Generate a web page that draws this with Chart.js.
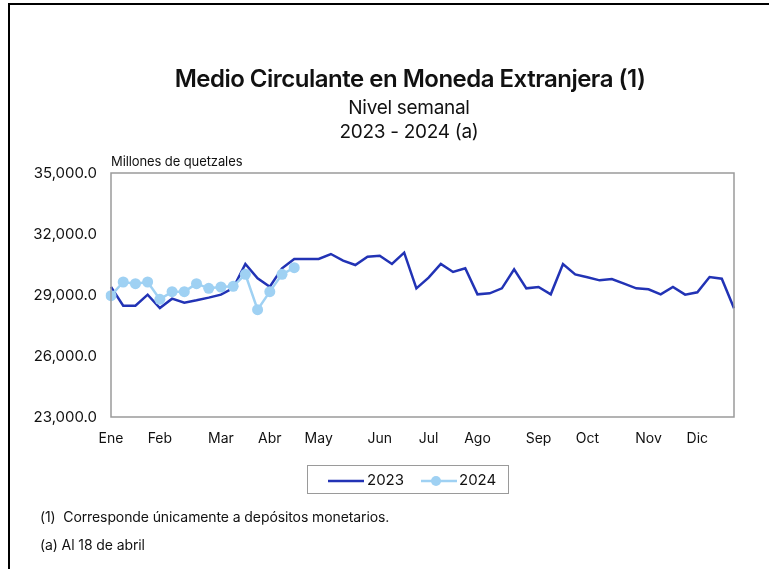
<!DOCTYPE html>
<html lang="es">
<head>
  <meta charset="UTF-8" />
  <title>Medio Circulante en Moneda Extranjera</title>
  <script src="https://cdn.jsdelivr.net/npm/chart.js"></script>
  <style>
    html, body {
      margin: 0;
      padding: 0;
      width: 769px;
      height: 569px;
      overflow: hidden;
      background: #fff;
      font-family: 'Inter', 'Noto Sans', sans-serif;
      color: #111;
    }
    .frame {
      position: absolute;
      left: 8px;
      top: 3px;
      width: 800px;
      height: 600px;
      border-top: 2px solid #000;
      border-left: 2px solid #000;
    }
    #wrap {
      position: absolute;
      left: 0;
      top: 0;
      width: 769px;
      height: 569px;
    }
    .txt {
      position: absolute;
      white-space: nowrap;
    }
    .title {
      left: 0; width: 820px; text-align: center;
      top: 64px; font-size: 24px; font-weight: 600; letter-spacing: -0.5px;
    }
    .sub {
      left: 0; width: 818px; text-align: center;
      font-size: 19px; letter-spacing: -0.3px;
    }
    .units { left: 111px; top: 153px; font-size: 13px; letter-spacing: -0.1px; }
    .note { left: 40px; font-size: 14px; letter-spacing: -0.1px; }
    .legend {
      position: absolute;
      left: 307px; top: 465px;
      width: 200px; height: 27px;
      border: 1.5px solid #9a9a9a;
      font-size: 15px;
    }
    .legend span { position: absolute; top: 4px; }
  </style>
</head>
<body>
  <div class="frame"></div>
  <div id="wrap"><canvas id="chart" width="769" height="569"></canvas></div>

  <div class="txt title">Medio Circulante en Moneda Extranjera (1)</div>
  <div class="txt sub" style="top:96px">Nivel semanal</div>
  <div class="txt sub" style="top:120px">2023 - 2024 (a)</div>
  <div class="txt units">Millones de quetzales</div>

  <div class="legend">
    <svg width="200" height="27" style="position:absolute;left:0;top:0">
      <line x1="20" y1="15" x2="56" y2="15" stroke="#2233b5" stroke-width="2.5"/>
      <line x1="113" y1="15" x2="149" y2="15" stroke="#9fd1f3" stroke-width="2.5"/>
      <circle cx="128" cy="15" r="5" fill="#9fd1f3"/>
    </svg>
    <span style="left:59px">2023</span>
    <span style="left:151px">2024</span>
  </div>

  <div class="txt note" style="top:508px">(1)&nbsp; Corresponde únicamente a depósitos monetarios.</div>
  <div class="txt note" style="top:536px">(a) Al 18 de abril</div>

  <script>
    // semanas de 2023 (52) y etiquetas de mes en la semana donde aparecen
    const months = ['Ene', 'Feb', 'Mar', 'Abr', 'May', 'Jun', 'Jul', 'Ago', 'Sep', 'Oct', 'Nov', 'Dic'];
    const monthWeek = [0, 4, 9, 13, 17, 22, 26, 30, 35, 39, 44, 48];

    const values2023 = [
      29400, 28475, 28475, 29016, 28360, 28820, 28623, 28738, 28870, 29016,
      29344, 30525, 29820, 29410, 30311, 30770, 30770, 30770, 31016, 30688,
      30475, 30885, 30934, 30525, 31082, 29328, 29853, 30525, 30131, 30311,
      29033, 29082, 29328, 30262, 29328, 29393, 29033, 30525, 30016, 29869,
      29721, 29787, 29557, 29328, 29279, 29033, 29393, 29016, 29131, 29885,
      29803, 28344
    ];
    const values2024 = [
      28967, 29640, 29557, 29640, 28787, 29164, 29164, 29557, 29328, 29393,
      29426, 30016, 28279, 29164, 30016, 30344
    ];

    const yTicks = [23000, 26000, 29000, 32000, 35000];

    const weeks = values2023.map((v, i) => {
      const m = monthWeek.indexOf(i);
      return m >= 0 ? months[m] : '';
    });

    const boxPlugin = {
      id: 'box',
      afterDraw(chart) {
        const a = chart.chartArea;
        const ctx = chart.ctx;
        ctx.save();
        ctx.strokeStyle = '#9a9a9a';
        ctx.lineWidth = 1.5;
        ctx.strokeRect(a.left, a.top, a.right - a.left, a.bottom - a.top);
        ctx.restore();
      }
    };

    new Chart(document.getElementById('chart'), {
      type: 'line',
      data: {
        labels: weeks,
        datasets: [
          {
            label: '2024',
            data: values2024,
            borderColor: '#9fd1f3',
            backgroundColor: '#9fd1f3',
            borderWidth: 2.5,
            pointRadius: 5.5,
            pointHoverRadius: 5.5,
            pointBorderWidth: 0,
            tension: 0,
            order: 0
          },
          {
            label: '2023',
            data: values2023,
            borderColor: '#2233b5',
            backgroundColor: '#2233b5',
            borderWidth: 2.5,
            pointRadius: 0,
            tension: 0,
            order: 1
          }
        ]
      },
      options: {
        responsive: false,
        animation: false,
        layout: { padding: { top: 173, left: 0, right: 35, bottom: 117 } },
        plugins: {
          legend: { display: false },
          title: { display: false },
          tooltip: { enabled: false }
        },
        scales: {
          x: {
            offset: false,
            grid: { display: false, drawTicks: false },
            border: { display: false },
            ticks: {
              autoSkip: false,
              maxRotation: 0,
              padding: 13,
              color: '#111',
              font: { family: 'Inter', size: 14 }
            },
            afterFit(scale) { scale.height = 35; }
          },
          y: {
            min: 23000,
            max: 35000,
            grid: { display: false, drawTicks: false },
            border: { display: false },
            afterBuildTicks(scale) { scale.ticks = yTicks.map(v => ({ value: v })); },
            ticks: {
              padding: 14,
              color: '#111',
              font: { family: 'Inter', size: 15 },
              callback: v => v.toLocaleString('en-US', { minimumFractionDigits: 1, maximumFractionDigits: 1 })
            },
            afterFit(scale) { scale.width = 111; }
          }
        }
      },
      plugins: [boxPlugin]
    });
  </script>
</body>
</html>
